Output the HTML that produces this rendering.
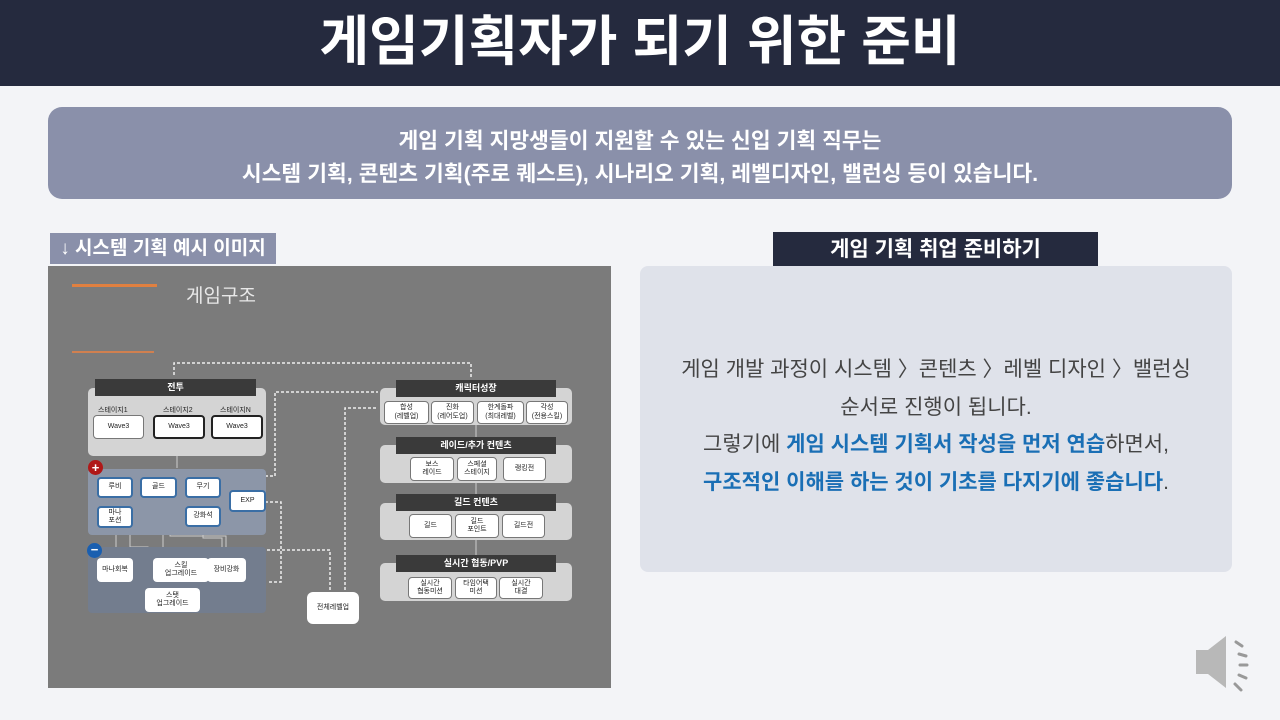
<!DOCTYPE html>
<html><head><meta charset="utf-8"><style>
*{margin:0;padding:0;box-sizing:border-box}
body{width:1280px;height:720px;background:#f3f4f7;position:relative;overflow:hidden;font-family:"Liberation Sans","Noto Sans CJK KR",sans-serif}
.a{position:absolute}
.hdr{left:0;top:0;width:1280px;height:86px;background:#252a3e;color:#fff;font-size:54px;font-weight:bold;text-align:center;line-height:84px}
.ban{left:48px;top:107px;width:1184px;height:92px;background:#8a90aa;border-radius:14px;color:#fff;font-weight:bold;font-size:21.5px;text-align:center;line-height:33px;padding-top:18px}
.lab{background:#8a90aa;color:#fff;font-weight:bold;font-size:19px;line-height:31px;text-align:center}
.img{left:48px;top:266px;width:563px;height:422px;background:#7b7b7b}
.dh{background:#3a3a3a;color:#fff;font-size:9px;text-align:center;font-weight:bold;line-height:17px}
.pn{background:#d4d4d4;border-radius:5px}
.bx{background:#fff;border:1px solid #777;border-radius:4px;font-size:7px;text-align:center;display:flex;align-items:center;justify-content:center;line-height:1.2;color:#222}
.bb{border:2px solid #3a6ea5;border-radius:4px}
.rp{left:640px;top:266px;width:592px;height:306px;background:#dfe2ea;border-radius:8px;text-align:center;color:#444;font-size:21px;line-height:37.7px;padding-top:85px}
.hl{color:#1a6fb5;font-weight:bold}
</style></head><body>
<div class="a hdr">게임기획자가 되기 위한 준비</div>
<div class="a ban">게임 기획 지망생들이 지원할 수 있는 신입 기획 직무는<br>시스템 기획, 콘텐츠 기획(주로 퀘스트), 시나리오 기획, 레벨디자인, 밸런싱 등이 있습니다.</div>
<div class="a lab" style="left:50px;top:233px;width:226px;height:31px">↓ 시스템 기획 예시 이미지</div>
<div class="a lab" style="left:773px;top:232px;width:325px;height:36px;background:#252a3e;line-height:36px;font-size:21px">게임 기획 취업 준비하기</div>
<div class="a rp">게임 개발 과정이 시스템 〉콘텐츠 〉레벨 디자인 〉밸런싱<br>순서로 진행이 됩니다.<br>그렇기에 <span class="hl">게임 시스템 기획서 작성을 먼저 연습</span>하면서,<br><span class="hl">구조적인 이해를 하는 것이 기초를 다지기에 좋습니다</span>.</div>

<div class="a img"></div>
<div class="a" style="left:72px;top:284px;width:85px;height:3px;background:#e08040"></div>
<div class="a" style="left:72px;top:351px;width:82px;height:2px;background:#d08050"></div>
<div class="a" style="left:186px;top:281px;color:#e8e8e8;font-size:19px">게임구조</div>

<svg class="a" style="left:0;top:0" width="640" height="700">
<g fill="none" stroke="#eee" stroke-width="1.5" stroke-dasharray="3,2">
<path d="M174 375 V363 H471 V378"/>
<path d="M180 476 H275 V392 H378"/>
<path d="M265 502 H281 V582 H267"/>
<path d="M267 550 H330 V590"/>
<path d="M345 590 V408 H378"/>
</g>
<g fill="none" stroke="#ccc" stroke-width="1">
<path d="M177 456 V468"/><path d="M116 528 V556"/><path d="M130 528 V547 H148 V588"/><path d="M150 498 V520 H163 V556"/><path d="M170 498 V536 H226 V556"/><path d="M203 527 V538 H222 V556"/>
<path d="M476 425 V437 M476 483 V494 M476 540 V555"/>
</g>
</svg>

<div class="a pn" style="left:88px;top:388px;width:178px;height:68px"></div>
<div class="a dh" style="left:95px;top:379px;width:161px;height:17px">전투</div>
<div class="a" style="left:98px;top:405px;font-size:7px;color:#222">스테이지1</div>
<div class="a" style="left:163px;top:405px;font-size:7px;color:#222">스테이지2</div>
<div class="a" style="left:220px;top:405px;font-size:7px;color:#222">스테이지N</div>
<div class="a bx" style="left:93px;top:415px;width:51px;height:24px">Wave3</div>
<div class="a bx" style="left:153px;top:415px;width:52px;height:24px;border:2px solid #222">Wave3</div>
<div class="a bx" style="left:211px;top:415px;width:52px;height:24px;border:2px solid #222">Wave3</div>

<div class="a" style="left:88px;top:469px;width:178px;height:66px;background:#8c96a8;border-radius:4px"></div>
<div class="a" style="left:88px;top:547px;width:178px;height:66px;background:#737d8e;border-radius:4px"></div>
<div class="a" style="left:88px;top:460px;width:15px;height:15px;border-radius:50%;background:#b01818;color:#fff;font-size:13px;font-weight:bold;text-align:center;line-height:15px">+</div>
<div class="a" style="left:87px;top:543px;width:15px;height:15px;border-radius:50%;background:#1a5fb0;color:#fff;font-size:13px;font-weight:bold;text-align:center;line-height:13px">−</div>
<div class="a bx bb" style="left:97px;top:477px;width:36px;height:21px">루비</div>
<div class="a bx bb" style="left:140px;top:477px;width:37px;height:21px">골드</div>
<div class="a bx bb" style="left:185px;top:477px;width:36px;height:21px">무기</div>
<div class="a bx bb" style="left:229px;top:490px;width:37px;height:22px">EXP</div>
<div class="a bx bb" style="left:97px;top:506px;width:36px;height:22px">마나<br>포션</div>
<div class="a bx bb" style="left:185px;top:506px;width:36px;height:21px">강화석</div>
<div class="a bx" style="left:97px;top:558px;width:36px;height:24px;border:none">마나회복</div>
<div class="a bx" style="left:153px;top:558px;width:56px;height:24px;border:none">스킬<br>업그레이드</div>
<div class="a bx" style="left:207px;top:558px;width:39px;height:24px;border:none">장비강화</div>
<div class="a bx" style="left:145px;top:588px;width:55px;height:24px;border:none">스탯<br>업그레이드</div>
<div class="a bx" style="left:307px;top:592px;width:52px;height:32px;border:none;border-radius:6px">전체레벨업</div>

<div class="a pn" style="left:380px;top:388px;width:192px;height:37px"></div>
<div class="a dh" style="left:396px;top:380px;width:160px;height:17px">캐릭터성장</div>
<div class="a bx" style="left:384px;top:401px;width:45px;height:23px">합성<br>(레벨업)</div>
<div class="a bx" style="left:431px;top:401px;width:43px;height:23px">진화<br>(레어도업)</div>
<div class="a bx" style="left:477px;top:401px;width:47px;height:23px">한계돌파<br>(최대레벨)</div>
<div class="a bx" style="left:526px;top:401px;width:42px;height:23px">각성<br>(전용스킬)</div>

<div class="a pn" style="left:380px;top:445px;width:192px;height:38px"></div>
<div class="a dh" style="left:396px;top:437px;width:160px;height:17px">레이드/추가 컨텐츠</div>
<div class="a bx" style="left:410px;top:457px;width:44px;height:24px">보스<br>레이드</div>
<div class="a bx" style="left:457px;top:457px;width:40px;height:24px">스페셜<br>스테이지</div>
<div class="a bx" style="left:503px;top:457px;width:43px;height:24px">랭킹전</div>

<div class="a pn" style="left:380px;top:503px;width:192px;height:37px"></div>
<div class="a dh" style="left:396px;top:494px;width:160px;height:17px">길드 컨텐츠</div>
<div class="a bx" style="left:409px;top:514px;width:43px;height:24px">길드</div>
<div class="a bx" style="left:455px;top:514px;width:44px;height:24px">길드<br>포인트</div>
<div class="a bx" style="left:502px;top:514px;width:43px;height:24px">길드전</div>

<div class="a pn" style="left:380px;top:563px;width:192px;height:38px"></div>
<div class="a dh" style="left:396px;top:555px;width:160px;height:17px">실시간 협동/PVP</div>
<div class="a bx" style="left:408px;top:577px;width:44px;height:22px">실시간<br>협동미션</div>
<div class="a bx" style="left:455px;top:577px;width:42px;height:22px">타임어택<br>미션</div>
<div class="a bx" style="left:499px;top:577px;width:44px;height:22px">실시간<br>대결</div>

<svg class="a" style="left:1190px;top:632px" width="70" height="62">
<path d="M6 18 H18 L36 4 V56 L18 42 H6 Z" fill="#b8b8b8"/>
<g stroke="#999" stroke-width="3" stroke-linecap="round">
<path d="M46 10 L52 14"/><path d="M49 22 L56 24"/><path d="M50 33 L57 33"/><path d="M49 43 L56 46"/><path d="M45 52 L51 58"/>
</g>
</svg>
</body></html>
